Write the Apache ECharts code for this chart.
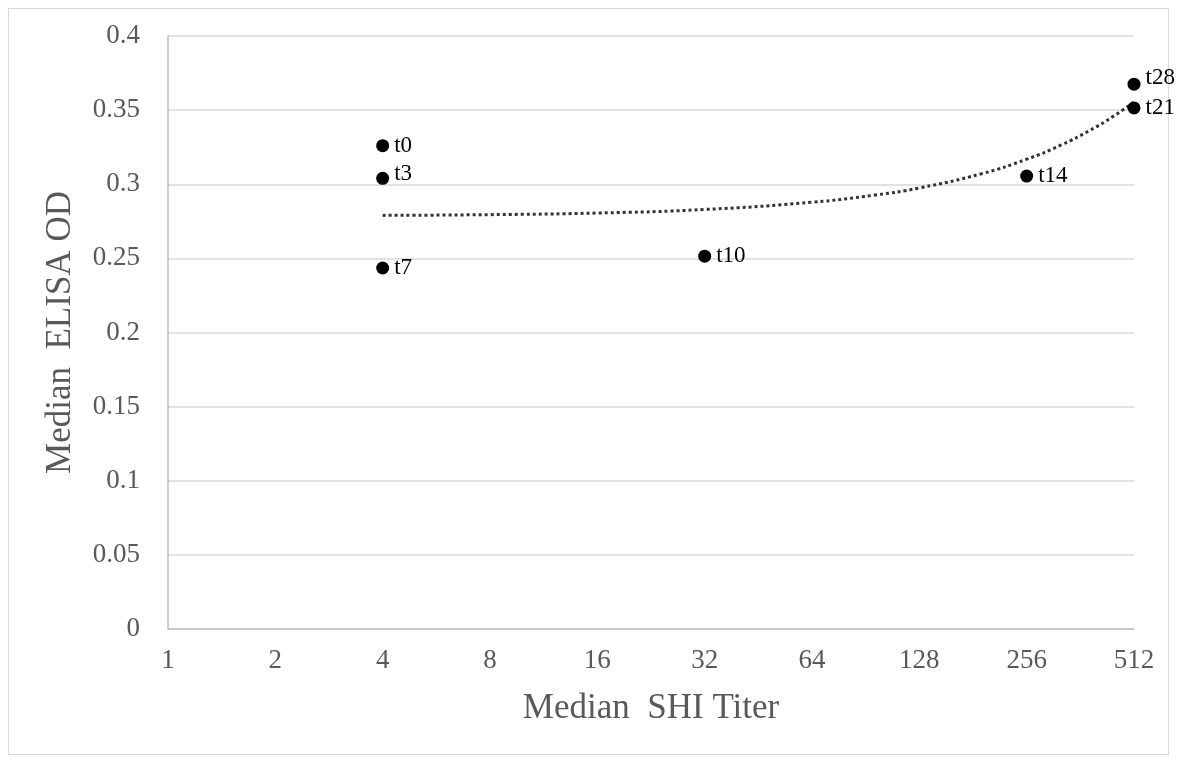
<!DOCTYPE html>
<html>
<head>
<meta charset="utf-8">
<script src="https://cdn.jsdelivr.net/npm/echarts@6/dist/echarts.min.js"></script>
<style>
html,body{margin:0;padding:0;background:#fff;}
#frame{position:absolute;left:8px;top:8px;width:1161px;height:747px;border:1px solid #d9d9d9;box-sizing:border-box;}
#chart{position:absolute;left:0;top:0;width:1178px;height:764px;}
</style>
</head>
<body>
<div id="frame"></div>
<div id="chart"></div>
<script>
// Observed points: label, titer, OD
var pointLabels = ['t0', 't3', 't7', 't10', 't14', 't21', 't28'];
var pointTiters = [4, 4, 4, 32, 256, 512, 512];
var pointOD = [0.326, 0.304, 0.2435, 0.2515, 0.3055, 0.3515, 0.3675];
// Trend line
var trendTiters = [4, 8, 16, 32, 64, 96, 128, 192, 256, 320, 384, 448, 512];
var trendOD = [0.2790, 0.2795, 0.2806, 0.2830, 0.2879, 0.2927, 0.2975, 0.3072, 0.3169, 0.3265, 0.3362, 0.3458, 0.3555];

var font = '"Liberation Serif", "Times New Roman", serif';
var chart = echarts.init(document.getElementById('chart'));
var pts = pointTiters.map(function (x, i) { return [x, pointOD[i], pointLabels[i]]; });
var trend = trendTiters.map(function (x, i) { return [x, trendOD[i]]; });

chart.setOption({
  animation: false,
  backgroundColor: 'transparent',
  grid: { left: 168, right: 44, top: 36, bottom: 135 },
  xAxis: {
    type: 'log', logBase: 2, min: 1, max: 512,
    name: 'Median  SHI Titer', nameLocation: 'middle', nameGap: 62,
    nameTextStyle: { fontFamily: font, fontSize: 35, color: '#595959' },
    axisLine: { show: true, lineStyle: { color: '#bfbfbf', width: 1.5 } },
    axisTick: { show: false },
    splitLine: { show: false },
    minorTick: { show: false }, minorSplitLine: { show: false },
    axisLabel: { fontFamily: font, fontSize: 27, color: '#595959', margin: 18 }
  },
  yAxis: {
    type: 'value', min: 0, max: 0.4, interval: 0.05,
    name: 'Median  ELISA OD', nameLocation: 'middle', nameGap: 90,
    nameTextStyle: { fontFamily: font, fontSize: 35, color: '#595959' },
    axisLine: { show: true, lineStyle: { color: '#bfbfbf', width: 1.5 } },
    axisTick: { show: false },
    splitLine: { show: true, lineStyle: { color: '#d9d9d9', width: 1.5 } },
    axisLabel: { fontFamily: font, fontSize: 27, color: '#595959', margin: 28 }
  },
  series: [
    {
      type: 'line', data: trend, smooth: true, symbol: 'none', z: 2,
      lineStyle: { color: '#333333', width: 3, type: [3, 3] }
    },
    {
      type: 'scatter', data: pts, symbol: 'circle', symbolSize: 13, z: 3,
      itemStyle: { color: '#000', opacity: 1 },
      label: {
        show: true, position: 'right', distance: 5,
        formatter: function (p) { return p.data[2]; },
        fontFamily: font, fontSize: 23, color: '#000'
      },
      labelLayout: function (p) {
        if (p.dataIndex === 6) { return { dy: -6 }; }
        if (p.dataIndex === 1) { return { dy: -4 }; }
        return {};
      }
    }
  ]
});
</script>
</body>
</html>
